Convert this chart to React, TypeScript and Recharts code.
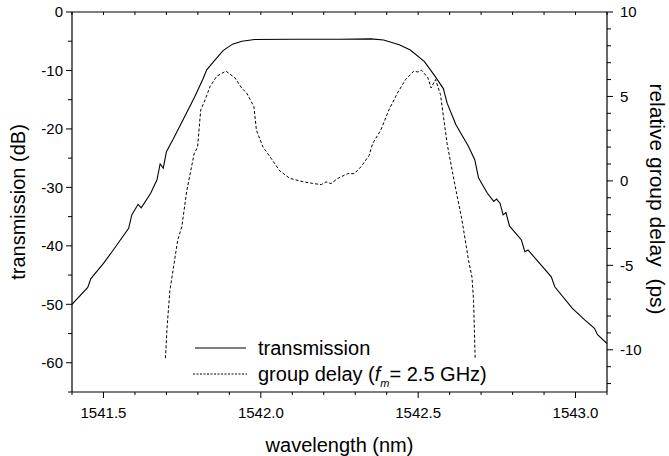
import { Legend, Line, LineChart, ReferenceLine, XAxis, YAxis } from 'recharts'

const FONT = '"Liberation Sans", Arial, Helvetica, sans-serif'
const PLOT_TOP = 12

// transmission spectrum (wavelength nm -> dB)
const transWl = [
  1541.4, 1541.45, 1541.46, 1541.5, 1541.53, 1541.58, 1541.59, 1541.61, 1541.62, 1541.65,
  1541.67, 1541.68, 1541.69, 1541.7, 1541.72, 1541.755, 1541.79, 1541.815, 1541.828, 1541.85,
  1541.88, 1541.91, 1541.94, 1541.98, 1542.1, 1542.25, 1542.35, 1542.39, 1542.44, 1542.475,
  1542.52, 1542.555, 1542.58, 1542.592, 1542.62, 1542.66, 1542.68, 1542.692, 1542.72, 1542.74,
  1542.749, 1542.76, 1542.77, 1542.779, 1542.79, 1542.828, 1542.839, 1542.849, 1542.886, 1542.923,
  1542.934, 1542.99, 1543.03, 1543.06, 1543.07, 1543.1,
]
const transDb = [
  -50.0, -47.1, -45.6, -43.0, -40.8, -37.0, -34.7, -32.9, -33.5, -31.0,
  -28.7, -26.0, -26.7, -23.9, -21.9, -18.2, -14.5, -11.6, -9.9, -8.5,
  -6.6, -5.5, -5.0, -4.7, -4.65, -4.65, -4.6, -4.8, -5.6, -6.5,
  -8.5, -11.1, -13.1, -15.6, -19.3, -23.0, -25.3, -28.4, -31.0, -32.4,
  -32.0, -32.7, -34.7, -34.3, -36.6, -39.0, -41.0, -40.7, -43.0, -45.3,
  -47.0, -50.7, -52.7, -54.1, -55.2, -56.7,
]

// relative group delay (wavelength nm -> ps)
const delayWl = [
  1541.697, 1541.702, 1541.711, 1541.736, 1541.749, 1541.765, 1541.788, 1541.799, 1541.809, 1541.823,
  1541.839, 1541.86, 1541.889, 1541.918, 1541.939, 1541.955, 1541.978, 1541.986, 1542.007, 1542.034,
  1542.06, 1542.092, 1542.134, 1542.165, 1542.192, 1542.207, 1542.223, 1542.244, 1542.276, 1542.297,
  1542.318, 1542.344, 1542.355, 1542.381, 1542.407, 1542.434, 1542.46, 1542.486, 1542.499, 1542.511,
  1542.531, 1542.541, 1542.555, 1542.571, 1542.592, 1542.618, 1542.639, 1542.66, 1542.671, 1542.676,
  1542.681,
]
const delayPs = [
  -10.5, -8.7, -6.5, -3.5, -2.7, -0.55, 1.6, 2.0, 4.2, 4.8,
  5.6, 6.2, 6.5, 6.1, 5.5, 5.2, 4.4, 3.0, 2.0, 1.3,
  0.6, 0.15, -0.05, -0.15, -0.22, -0.06, -0.16, 0.14, 0.43, 0.43,
  0.83, 1.5, 2.2, 3.0, 4.2, 5.2, 6.0, 6.5, 6.45, 6.55,
  6.1, 5.5, 6.0, 5.1, 2.2, -0.36, -2.3, -4.7, -5.7, -7.1,
  -10.5,
]

const xTicks = [
  1541.4, 1541.5, 1541.6, 1541.7, 1541.8, 1541.9, 1542.0, 1542.1, 1542.2, 1542.3,
  1542.4, 1542.5, 1542.6, 1542.7, 1542.8, 1542.9, 1543.0, 1543.1,
]
const xMajor = [1541.5, 1542.0, 1542.5, 1543.0]
const dbTicks = [0, -5, -10, -15, -20, -25, -30, -35, -40, -45, -50, -55, -60, -65]
const psTicks = [10, 9, 8, 7, 6, 5, 4, 3, 2, 1, 0, -1, -2, -3, -4, -5, -6, -7, -8, -9, -10, -11, -12]

const transData = transWl.map((wl, i) => ({ wl, db: transDb[i] }))
const delayData = delayWl.map((wl, i) => ({ wl, ps: delayPs[i] }))

const near = (a: number, b: number) => Math.abs(a - b) < 1e-6

function XTick({ x, y, payload }: any) {
  const major = xMajor.some((m) => near(m, payload.value))
  return (
    <g>
      <line x1={x} x2={x} y1={y} y2={y + (major ? 6 : 3)} stroke="#000" />
      <line x1={x} x2={x} y1={PLOT_TOP} y2={PLOT_TOP + 3} stroke="#000" />
      {major && (
        <text x={x} y={y + 26} textAnchor="middle" fontSize={15} fontFamily={FONT} fill="#000">
          {payload.value.toFixed(1)}
        </text>
      )}
    </g>
  )
}

function LeftTick({ x, y, payload }: any) {
  const major = payload.value % 10 === 0
  return (
    <g>
      <line x1={x} x2={x - (major ? 6 : 4)} y1={y} y2={y} stroke="#000" />
      {major && (
        <text x={x - 9} y={y} dy="0.35em" textAnchor="end" fontSize={15} fontFamily={FONT} fill="#000">
          {payload.value}
        </text>
      )}
    </g>
  )
}

function RightTick({ x, y, payload }: any) {
  const major = payload.value % 5 === 0
  return (
    <g>
      <line x1={x} x2={x + (major ? 6 : 4)} y1={y} y2={y} stroke="#000" />
      {major && (
        <text x={x + 13} y={y} dy="0.35em" textAnchor="start" fontSize={15} fontFamily={FONT} fill="#000">
          {payload.value}
        </text>
      )}
    </g>
  )
}

function LegendBox() {
  const row = { display: 'flex', alignItems: 'center', height: 26 }
  return (
    <div style={{ fontFamily: FONT, fontSize: 20, color: '#000' }}>
      <div style={row}>
        <svg width={68} height={26}>
          <line x1={5} x2={56} y1={13} y2={13} stroke="#000" strokeWidth={1} />
        </svg>
        <span>transmission</span>
      </div>
      <div style={row}>
        <svg width={68} height={26}>
          <line x1={3} x2={57} y1={13} y2={13} stroke="#000" strokeWidth={1} strokeDasharray="2 1.5" />
        </svg>
        <span>
          group delay (<i>f</i>
          <i style={{ fontSize: 11, position: 'relative', top: 6 }}>m</i>= 2.5 GHz)
        </span>
      </div>
    </div>
  )
}

export default function App() {
  return (
    <div style={{ position: 'absolute', left: 0, top: 0, width: 669, height: 456, background: '#fff', fontFamily: FONT }}>
      <LineChart width={669} height={456} margin={{ top: PLOT_TOP, right: 0, bottom: 0, left: 0 }}>
        <XAxis
          dataKey="wl"
          type="number"
          domain={[1541.4, 1543.1]}
          allowDataOverflow
          ticks={xTicks}
          interval={0}
          height={64}
          tickSize={0}
          tickMargin={0}
          tickLine={false}
          tick={<XTick />}
          axisLine={{ stroke: '#000', strokeWidth: 1.2 }}
          label={{
            content: ({ viewBox }: any) => (
              <text
                x={viewBox.x + viewBox.width / 2}
                y={viewBox.y + 53}
                dy="0.35em"
                textAnchor="middle"
                fontSize={20}
                fontFamily={FONT}
                fill="#000"
              >
                wavelength (nm)
              </text>
            ),
          }}
        />
        <YAxis
          yAxisId="db"
          orientation="left"
          type="number"
          domain={[-65, 0]}
          allowDataOverflow
          ticks={dbTicks}
          interval={0}
          width={72}
          tickSize={0}
          tickMargin={0}
          tickLine={false}
          tick={<LeftTick />}
          axisLine={{ stroke: '#000', strokeWidth: 1.2 }}
          label={{
            content: ({ viewBox }: any) => {
              const cx = viewBox.x + 18
              const cy = viewBox.y + viewBox.height / 2
              return (
                <text
                  transform={`translate(${cx},${cy}) rotate(-90)`}
                  dy="0.35em"
                  textAnchor="middle"
                  fontSize={20}
                  fontFamily={FONT}
                  fill="#000"
                >
                  transmission (dB)
                </text>
              )
            },
          }}
        />
        <YAxis
          yAxisId="ps"
          orientation="right"
          type="number"
          domain={[-12.5, 10]}
          allowDataOverflow
          ticks={psTicks}
          interval={0}
          width={62}
          tickSize={0}
          tickMargin={0}
          tickLine={false}
          tick={<RightTick />}
          axisLine={{ stroke: '#000', strokeWidth: 1.2 }}
          label={{
            content: ({ viewBox }: any) => {
              const cx = viewBox.x + 50
              const cy = viewBox.y + viewBox.height / 2 - 3
              return (
                <text
                  transform={`translate(${cx},${cy}) rotate(90)`}
                  dy="0.35em"
                  textAnchor="middle"
                  fontSize={21}
                  fontFamily={FONT}
                  fill="#000"
                  style={{ whiteSpace: 'pre' }}
                >
                  relative group delay  (ps)
                </text>
              )
            },
          }}
        />
        <ReferenceLine yAxisId="db" y={0} stroke="#000" strokeWidth={1.2} />
        <Line
          data={transData}
          yAxisId="db"
          dataKey="db"
          type="linear"
          stroke="#000"
          strokeWidth={1.1}
          dot={false}
          isAnimationActive={false}
          name="transmission"
        />
        <Line
          data={delayData}
          yAxisId="ps"
          dataKey="ps"
          type="linear"
          stroke="#000"
          strokeWidth={1}
          strokeDasharray="3 2"
          dot={false}
          isAnimationActive={false}
          name="group delay"
        />
        <Legend
          layout="vertical"
          align="center"
          verticalAlign="middle"
          content={<LegendBox />}
          wrapperStyle={{ position: 'absolute', left: 190, top: 335, width: 300, height: 52 }}
        />
      </LineChart>
    </div>
  )
}
